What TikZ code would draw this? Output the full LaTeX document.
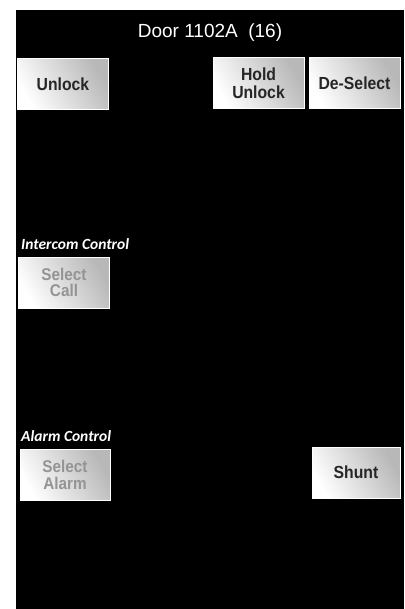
\documentclass[tikz,border=0pt]{standalone}
\usepackage{fontspec}
\setmainfont{Liberation Sans}
\newfontfamily\captionfont{Carlito}
\newfontfamily\buttonfont[FakeStretch=0.9]{Liberation Sans}
\begin{document}
\begin{tikzpicture}[x=1pt,y=-1pt,
    panelbutton/.style={draw=white,line width=0.6pt,left color=white,right color=black!28,
      shading angle=120,minimum width=91pt,minimum height=51pt,inner sep=1pt,
      align=center,font=\buttonfont\fontsize{17.5}{17.5}\selectfont\bfseries,text=black!85},
    greybutton/.style={panelbutton,text=black!42,font=\buttonfont\fontsize{17}{16.5}\selectfont\bfseries},
    sectionlabel/.style={anchor=west,text=white,inner sep=0pt,
      font=\captionfont\fontsize{15.5}{15}\selectfont\bfseries\itshape}]
    \useasboundingbox (0,0) rectangle (404,609);
    \fill [white] (0,0) rectangle (404,609);
    \fill [black] (16,10) rectangle (404,609);
    \node [text=white,font=\fontsize{19}{19}\selectfont] (title) at (210,33) {Door 1102A~~(16)};
    \node [panelbutton] (unlock) at (63,84) {Unlock};
    \node [panelbutton] (holdunlock) at (258.5,83) {Hold\\Unlock};
    \node [panelbutton] (deselect) at (354.5,83) {De-Select};
    \node [sectionlabel] (intercom) at (21,244) {Intercom Control};
    \node [greybutton] (selectcall) at (64,282.5) {Select\\Call};
    \node [sectionlabel] (alarm) at (21,436) {Alarm Control};
    \node [greybutton,minimum width=90pt] (selectalarm) at (65,475) {Select\\Alarm};
    \node [panelbutton,minimum width=88pt] (shunt) at (356,472.5) {Shunt};
\end{tikzpicture}
\end{document}
